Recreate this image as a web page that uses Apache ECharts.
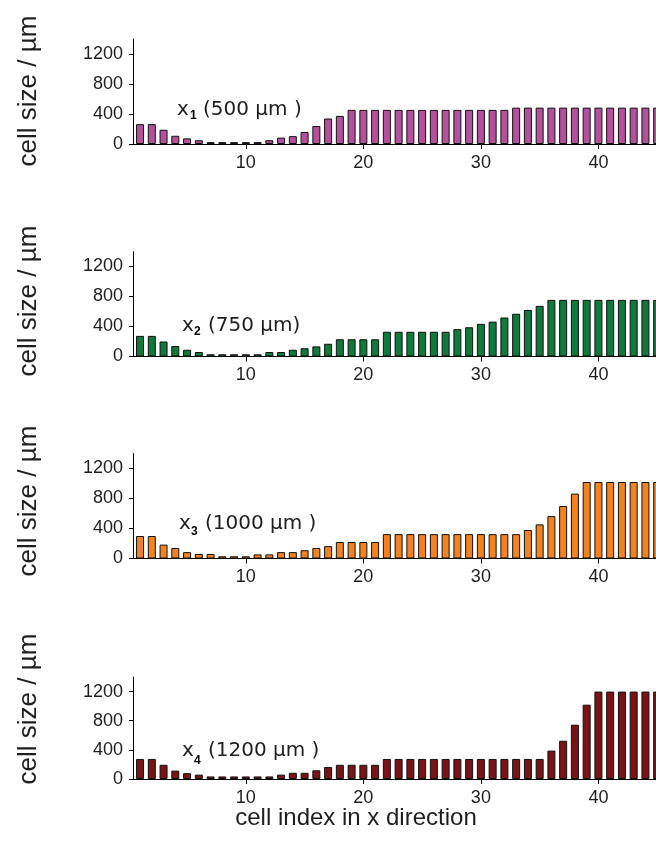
<!DOCTYPE html>
<html>
<head>
<meta charset="utf-8">
<script src="https://cdn.jsdelivr.net/npm/echarts@6/dist/echarts.min.js"></script>
<style>
  html, body { margin: 0; padding: 0; background: #fff; }
  #chart { width: 656px; height: 857px; }
</style>
</head>
<body>
<div id="chart"></div>
<script>
// cell indices along x
const cells = [1,2,3,4,5,6,7,8,9,10,11,12,13,14,15,16,17,18,19,20,21,22,23,24,25,
               26,27,28,29,30,31,32,33,34,35,36,37,38,39,40,41,42,43,44,45];

// cell sizes (µm) for each refinement position
const sizeX1 = [265,265,190,110,75,50,25,25,25,25,25,50,85,105,160,240,340,375,
                455,455,455,455,455,455,455,455,455,455,455,455,455,455,
                485,485,485,485,485,485,485,485,485,485,485,485,485];
const sizeX2 = [275,275,200,140,90,60,30,30,30,30,30,60,60,90,110,135,170,
                230,230,230,230,330,330,330,330,330,330,365,390,435,465,520,570,620,675,
                755,755,755,755,755,755,755,755,755,755];
const sizeX3 = [300,300,185,140,85,60,60,30,30,30,55,55,85,85,110,140,165,
                220,220,220,220,325,325,325,325,325,325,325,325,325,325,325,325,
                380,455,565,700,865,1020,1020,1020,1020,1020,1020,1020];
const sizeX4 = [275,275,195,115,80,60,35,35,35,35,35,35,60,85,85,120,165,
                195,195,195,195,275,275,275,275,275,275,275,275,275,275,275,275,275,275,
                390,525,745,1020,1200,1200,1200,1200,1200,1200];

// axis ticks
const xMajorTicks = [10, 20, 30, 40];
const xMinorTicks = [5, 15, 25, 35];
const yMajorTicks = [0, 400, 800, 1200];
const yMinorTicks = [200, 600, 1000, 1400];

// panel annotations
const panelNames = ['x', 'x', 'x', 'x'];
const panelSubs = ['1', '2', '3', '4'];
const panelPositions = ['(500 µm )', '(750 µm)', '(1000 µm )', '(1200 µm )'];

const seriesData = [sizeX1, sizeX2, sizeX3, sizeX4];
const barColors = ['#b5509d', '#0e7a3b', '#f5821f', '#7a1315'];

// panel layout: baseline y, plot height (0..1400), y-title centre
const panels = [
  { base: 144,   h: 105, ty: 91 },
  { base: 356.5, h: 105, ty: 301 },
  { base: 558.5, h: 105, ty: 501 },
  { base: 779,   h: 102, ty: 709 }
];
const annot = [
  { x: 177, y: 110, sx: 190, sy: 116 },
  { x: 182, y: 326, sx: 194, sy: 332 },
  { x: 179, y: 524, sx: 191, sy: 532 },
  { x: 182, y: 751, sx: 194, sy: 761 }
];

const FONT = '"Liberation Sans", Arial, sans-serif';
const FONT_WIDE = '"DejaVu Sans", sans-serif';
const TXT = '#1e1e1e';

const grids = [], xAxes = [], yAxes = [], series = [], graphics = [];

panels.forEach((p, k) => {
  grids.push({ left: 133, top: p.base - p.h, width: 523, height: p.h });
  const xBase = { gridIndex: k, type: 'value', min: 0.4, max: 44.9 };
  // main x axis: line, ticks and labels at the tens
  xAxes.push(Object.assign({}, xBase, {
    axisLine: { show: true, lineStyle: { color: '#000', width: 1 } },
    axisTick: { show: true, length: 5, customValues: xMajorTicks, lineStyle: { color: '#000' } },
    axisLabel: { show: true, customValues: xMajorTicks, margin: 10,
                 fontFamily: FONT, fontSize: 18, color: TXT },
    splitLine: { show: false }
  }));
  // short ticks at the fives
  xAxes.push(Object.assign({}, xBase, {
    axisLine: { show: false },
    axisTick: { show: true, length: 3, customValues: xMinorTicks, lineStyle: { color: '#000' } },
    axisLabel: { show: false },
    splitLine: { show: false }
  }));
  const yBase = { gridIndex: k, type: 'value', min: 0, max: 1400 };
  yAxes.push(Object.assign({}, yBase, {
    axisLine: { show: true, lineStyle: { color: '#000', width: 1 } },
    axisTick: { show: true, length: 4, customValues: yMajorTicks, lineStyle: { color: '#000' } },
    axisLabel: { show: true, customValues: yMajorTicks, margin: 10,
                 formatter: v => String(v),
                 fontFamily: FONT, fontSize: 18, color: TXT },
    splitLine: { show: false }
  }));
  yAxes.push(Object.assign({}, yBase, {
    axisLine: { show: false },
    axisTick: { show: true, length: 3, customValues: yMinorTicks, lineStyle: { color: '#000' } },
    axisLabel: { show: false },
    splitLine: { show: false }
  }));

  series.push({
    type: 'bar',
    xAxisIndex: 2 * k,
    yAxisIndex: 2 * k,
    barWidth: 8,
    clip: true,
    itemStyle: { color: barColors[k], borderColor: '#111', borderWidth: 1 },
    data: cells.map((c, i) => [c, seriesData[k][i]])
  });

  // y-axis title
  graphics.push({
    type: 'text', x: 29, y: p.ty, rotation: Math.PI / 2,
    style: { text: 'cell size / µm', fontFamily: FONT, fontSize: 26, fill: TXT,
             align: 'center', verticalAlign: 'middle' }
  });
  // position annotation
  const a = annot[k];
  graphics.push({
    type: 'text', x: a.x, y: a.y,
    style: { text: panelNames[k], fontFamily: FONT_WIDE, fontSize: 20, fill: TXT,
             align: 'left', verticalAlign: 'middle' }
  });
  graphics.push({
    type: 'text', x: a.sx, y: a.sy,
    style: { text: panelSubs[k], fontFamily: FONT, fontSize: 12, fontWeight: 'bold', fill: '#000',
             align: 'left', verticalAlign: 'middle' }
  });
  graphics.push({
    type: 'text', x: a.x + 26, y: a.y,
    style: { text: panelPositions[k], fontFamily: FONT_WIDE, fontSize: 20, fill: TXT,
             align: 'left', verticalAlign: 'middle' }
  });
});

graphics.push({
  type: 'text', x: 356, y: 818,
  style: { text: 'cell index in x direction', fontFamily: FONT, fontSize: 24, fill: TXT,
           align: 'center', verticalAlign: 'middle' }
});

const chart = echarts.init(document.getElementById('chart'), null, { renderer: 'canvas' });
chart.setOption({
  animation: false,
  backgroundColor: '#fff',
  grid: grids,
  xAxis: xAxes,
  yAxis: yAxes,
  series: series,
  graphic: graphics
});
</script>
</body>
</html>
